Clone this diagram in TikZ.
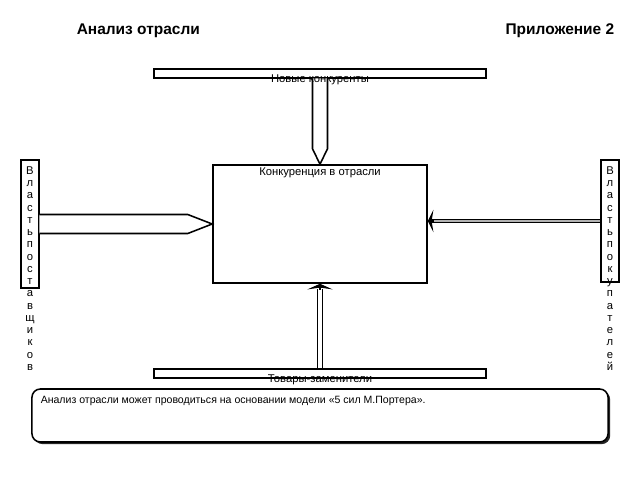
\documentclass[tikz,border=0pt]{standalone}
\usepackage{fontspec}
\setmainfont{Liberation Sans}
\usetikzlibrary{calc,shadows,arrows.meta}

\tikzset{
  box/.style={draw, fill=white, inner sep=0pt},
  lbl/.style={inner sep=0pt, font=\fontsize{8}{9}\selectfont},
  ttl/.style={inner sep=0pt, font=\bfseries\fontsize{11}{13}\selectfont},
  notebox/.style={draw, fill=white, rounded corners=6pt, inner sep=0pt,
    drop shadow={shadow xshift=1.5pt, shadow yshift=-1.5pt, opacity=0.85, fill=black}}
}

\begin{document}
\begin{tikzpicture}[x=0.025cm, y=-0.025cm, line width=1.1pt]

\useasboundingbox (0,0) rectangle (640,480);

\node (title) at (76,31) [ttl, anchor=west] {Анализ отрасли};
\node (annex) at (615,31) [ttl, anchor=east] {Приложение 2};


\node (rival) at (320,224) [box, minimum width=5.35cm, minimum height=2.95cm] {};
\node (newbar) at (320,73.5) [box, minimum width=8.3cm, minimum height=0.225cm] {};
\node (subsbar) at (320,373.5) [box, minimum width=8.3cm, minimum height=0.225cm] {};
\node (supp) at (30,224) [box, minimum width=0.45cm, minimum height=3.2cm] {};
\node (buyer) at (610,221) [box, minimum width=0.45cm, minimum height=3.05cm] {};

\coordinate (rtip) at (rival.east |- buyer.west);


\draw [fill=white] ($(newbar.south)+(-7.5,-0.5)$) -- ++(0,70.5) -- (rival.north)
   -- ($(newbar.south)+(7.5,70)$) -- ++(0,-70.5);

\draw [fill=white] ($(supp.east)+(-0.5,-9.5)$) -- ++(148.5,0) -- (rival.west)
   -- ($(supp.east)+(148,9.5)$) -- ++(-148.5,0);

\draw [double=gray!60, double distance=1.6pt, line width=0.8pt] (buyer.west) -- ($(rtip)+(4,0)$);
\draw [-{Stealth[length=4pt,width=16pt]}, line width=0.8pt] ($(rtip)+(6,0)$) -- (rtip);

\draw [double=white, double distance=2.5pt, line width=1pt] (subsbar.north) -- ($(rival.south)+(0,5)$);
\draw [-{Stealth[length=4pt,width=18pt]}, line width=0.8pt] ($(rival.south)+(0,6)$) -- (rival.south);


\node (newtxt) at (320,80) [lbl] {Новые конкуренты};
\node (subtxt) at (320,380) [lbl] {Товары-заменители};
\node (rivaltxt) at (320,173) [lbl] {Конкуренция в отрасли};

\node (supptxt) at (30,166) [lbl, anchor=north, align=center, font=\fontsize{8}{8.7}\selectfont]
  {В\\л\\а\\с\\т\\ь\\п\\о\\с\\т\\а\\в\\щ\\и\\к\\о\\в};
\node (buyertxt) at (610,166) [lbl, anchor=north, align=center, font=\fontsize{8}{8.7}\selectfont]
  {В\\л\\а\\с\\т\\ь\\п\\о\\к\\у\\п\\а\\т\\е\\л\\е\\й};


\node (note) at (320,415.5) [notebox, minimum width=14.4cm, minimum height=1.325cm] {};
\node (notetxt) at (40,401) [lbl, anchor=west, font=\fontsize{7.5}{9}\selectfont]
  {Анализ отрасли может проводиться на основании модели «5 сил М.Портера».};

\end{tikzpicture}
\end{document}
